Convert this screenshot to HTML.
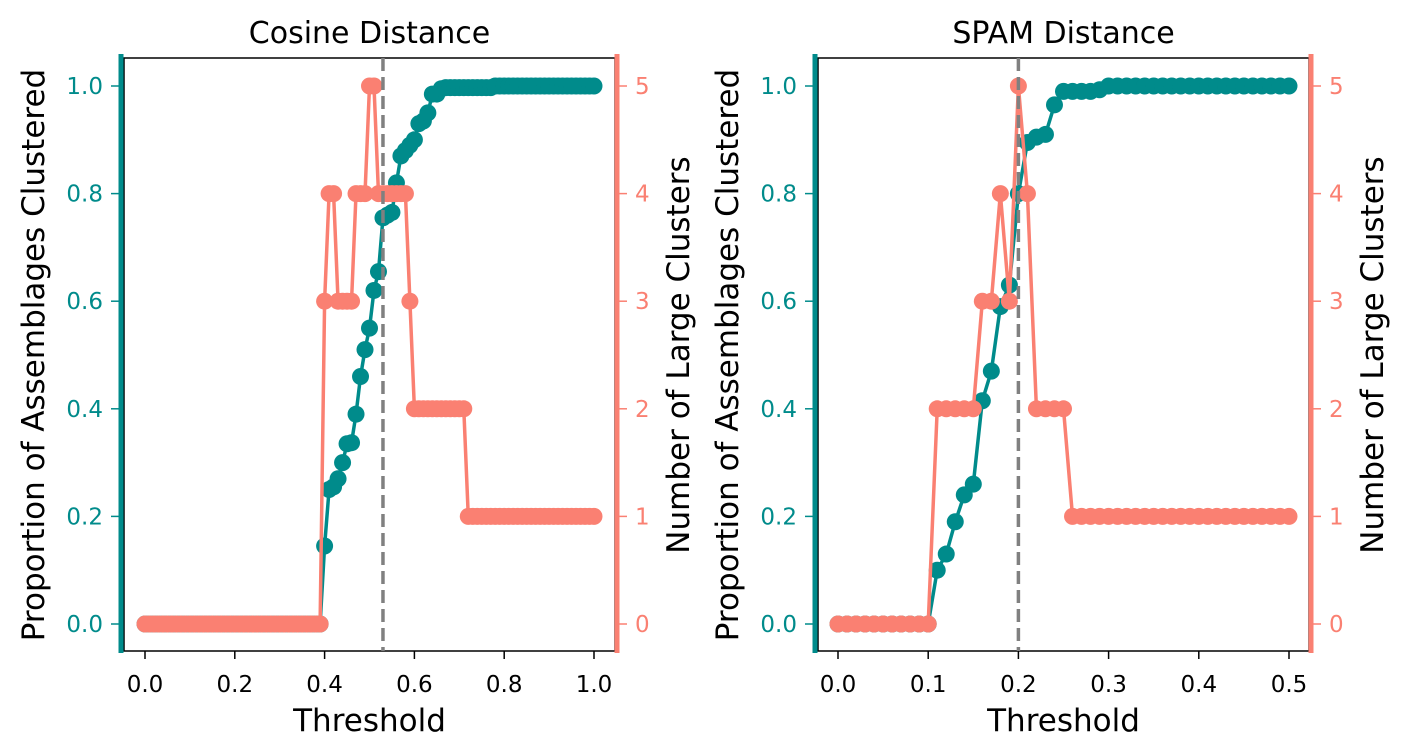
<!DOCTYPE html>
<html><head><meta charset="utf-8"><style>
html,body{margin:0;padding:0;background:#fff;}
svg{display:block;font-family:"DejaVu Sans","Liberation Sans",sans-serif;}
</style></head><body>
<svg id="chart" width="1408" height="756" viewBox="0 0 1408 756" xmlns="http://www.w3.org/2000/svg"></svg>
<script>
// Cosine panel data
const cosThresholds = Array.from({length:101},(_,i)=>i/100);
const cosProportion = [0,0,0,0,0,0,0,0,0,0, 0,0,0,0,0,0,0,0,0,0, 0,0,0,0,0,0,0,0,0,0, 0,0,0,0,0,0,0,0,0,0,
 0.145,0.25,0.255,0.27,0.30,0.335,0.337,0.39,0.46,0.51,
 0.55,0.62,0.655,0.755,0.76,0.765,0.82,0.87,0.88,0.89,
 0.90,0.93,0.935,0.95,0.985,0.985,0.995,0.997,0.997,0.997,
 0.997,0.997,0.997,0.997,0.997,0.997,0.997,0.997,1,1,
 1,1,1,1,1,1,1,1,1,1,
 1,1,1,1,1,1,1,1,1,1, 1];
const cosClusters = [0,0,0,0,0,0,0,0,0,0, 0,0,0,0,0,0,0,0,0,0, 0,0,0,0,0,0,0,0,0,0, 0,0,0,0,0,0,0,0,0,0,
 3,4,4,3,3,3,3,4,4,4,
 5,5,4,4,4,4,4,4,4,3,
 2,2,2,2,2,2,2,2,2,2,
 2,2,1,1,1,1,1,1,1,1,
 1,1,1,1,1,1,1,1,1,1,
 1,1,1,1,1,1,1,1,1,1, 1];
const cosBest = 0.53;
const cosXTicks = [0,0.2,0.4,0.6,0.8,1.0];
// SPAM panel data
const spamThresholds = Array.from({length:51},(_,i)=>i/100);
const spamProportion = [0,0,0,0,0,0,0,0,0,0,0,
 0.10,0.13,0.19,0.24,0.26,0.415,0.47,0.59,0.63,0.80,
 0.895,0.905,0.91,0.965,0.99,0.99,0.99,0.99,0.993,1,
 1,1,1,1,1,1,1,1,1,1, 1,1,1,1,1,1,1,1,1,1];
const spamClusters = [0,0,0,0,0,0,0,0,0,0,0,
 2,2,2,2,2,3,3,4,3,5,
 4,2,2,2,2,1,1,1,1,1,
 1,1,1,1,1,1,1,1,1,1, 1,1,1,1,1,1,1,1,1,1];
const spamBest = 0.20;
const spamXTicks = [0,0.1,0.2,0.3,0.4,0.5];
const leftYTicks = [0,0.2,0.4,0.6,0.8,1.0];
const rightYTicks = [0,1,2,3,4,5];

const NS='http://www.w3.org/2000/svg';
const svg=document.getElementById('chart');
function mk(tag,attrs,parent,text){const e=document.createElementNS(NS,tag);for(const k in attrs)e.setAttribute(k,attrs[k]);if(text!==undefined)e.textContent=text;(parent||svg).appendChild(e);return e;}
const TEAL='#008b8b', CORAL='#fa8072';

function panel(o){
  const g=mk('g',{});
  
  
  const L=o.left,R=o.right,T=58,B=651;
  const x=v=>o.x0px+(v-o.xmin)*(o.x1px-o.x0px)/(o.xmax-o.xmin);
  const yl=v=>624+(86-624)*v;
  const yr=v=>624+(86-624)*v/5;
  const fr=mk('rect',{x:L,y:T,width:R-L,height:B-T,fill:'none',stroke:'#000','stroke-width':1.5},g);
  
  const ls=mk('line',{x1:L-3,y1:T-4,x2:L-3,y2:B+2,stroke:TEAL,'stroke-width':5},g);
  
  const rs=mk('line',{x1:R+2,y1:T-4,x2:R+2,y2:B+2,stroke:CORAL,'stroke-width':5},g);
  
  o.xticks.forEach(t=>{
    mk('line',{x1:x(t),y1:B,x2:x(t),y2:B+8,stroke:'#000','stroke-width':1.5},g);
    const tl=mk('text',{x:x(t),y:B+41,'text-anchor':'middle','font-size':23,fill:'#000'},g,t.toFixed(1));
    
  });
  leftYTicks.forEach(t=>{
    mk('line',{x1:L-13,y1:yl(t),x2:L-5,y2:yl(t),stroke:TEAL,'stroke-width':1.5},g);
    const tl=mk('text',{x:L-21,y:yl(t)+8,'text-anchor':'end','font-size':23,fill:TEAL},g,t.toFixed(1));
    
  });
  rightYTicks.forEach(t=>{
    mk('line',{x1:R+4,y1:yr(t),x2:R+12,y2:yr(t),stroke:CORAL,'stroke-width':1.5},g);
    const tl=mk('text',{x:R+20,y:yr(t)+8,'text-anchor':'start','font-size':23,fill:CORAL},g,String(t));
    
  });
  const tp=o.th.map((t,i)=>x(t)+','+yl(o.prop[i])).join(' ');
  const tl=mk('polyline',{points:tp,fill:'none',stroke:TEAL,'stroke-width':3.5},g);
  
  o.th.forEach((t,i)=>{const c=mk('circle',{cx:x(t),cy:yl(o.prop[i]),r:8.5,fill:TEAL},g);
    });
  const cp=o.th.map((t,i)=>x(t)+','+yr(o.cl[i])).join(' ');
  const cl=mk('polyline',{points:cp,fill:'none',stroke:CORAL,'stroke-width':3.5},g);
  
  o.th.forEach((t,i)=>{const c=mk('circle',{cx:x(t),cy:yr(o.cl[i]),r:8.5,fill:CORAL},g);
    });
  const vl=mk('line',{x1:x(o.best),y1:T,x2:x(o.best),y2:B,stroke:'#808080','stroke-width':3.5,'stroke-dasharray':'13,6'},g);
  
  const ti=mk('text',{x:(L+R)/2,y:43,'text-anchor':'middle','font-size':30,fill:'#000'},g,o.title);
  
  const xl=mk('text',{x:(L+R)/2,y:731,'text-anchor':'middle','font-size':31,fill:'#000'},g,'Threshold');
  
  const yt=mk('text',{x:0,y:0,'text-anchor':'middle','font-size':31,fill:'#000',transform:`translate(${L-80},355) rotate(-90)`},g,'Proportion of Assemblages Clustered');
  
  const yt2=mk('text',{x:0,y:0,'text-anchor':'middle','font-size':31,fill:'#000',transform:`translate(${R+74},355) rotate(-90)`},g,'Number of Large Clusters');
  
}
panel({name:'cosine-panel',title:'Cosine Distance',left:124,right:615,x0px:145,x1px:594,xmin:0,xmax:1,
  xticks:cosXTicks,th:cosThresholds,prop:cosProportion,cl:cosClusters,best:cosBest});
panel({name:'spam-panel',title:'SPAM Distance',left:818,right:1309,x0px:838,x1px:1289,xmin:0,xmax:0.5,
  xticks:spamXTicks,th:spamThresholds,prop:spamProportion,cl:spamClusters,best:spamBest});
</script>
</body></html>
